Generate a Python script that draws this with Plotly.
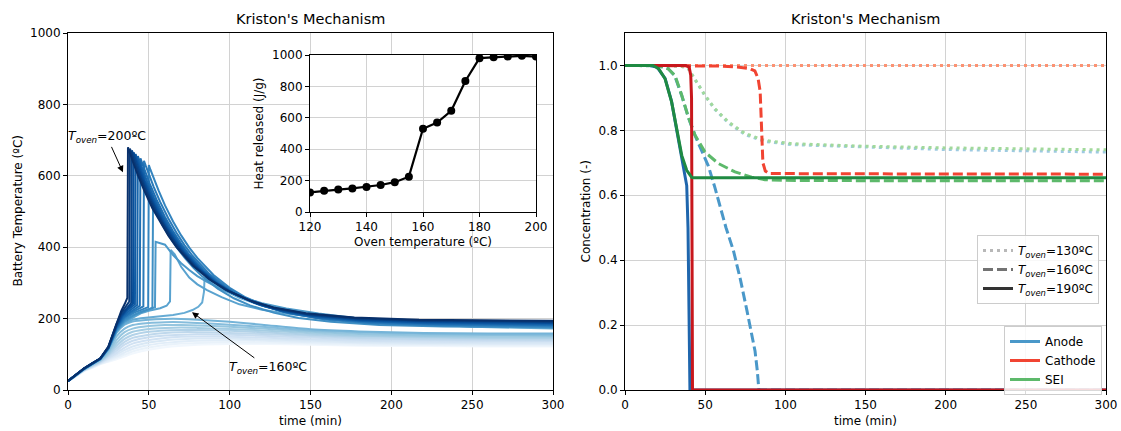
import plotly.graph_objects as go
from plotly.colors import sample_colorscale

# ---------------- Left panel: battery temperature vs time ----------------
oven_temps = [120.0, 123.3, 126.7, 130.0, 133.3, 136.7, 140.0, 143.3, 146.7, 150.0, 153.3, 156.7,
              160.0, 163.3, 166.7, 170.0, 173.3, 176.7, 180.0, 183.3, 186.7, 190.0, 193.3, 196.7, 200.0]

# curves without thermal runaway (120 ... 156.7 ºC) share one time grid
stable_time = [0, 5, 10, 15, 20, 25, 30, 35, 40, 50, 60, 70, 80, 100, 120, 150, 180, 220, 260, 300]
stable_temps = [
    [25, 39, 53, 62, 72, 79, 86, 94, 102, 113, 120, 124, 127, 129, 129, 127, 124, 123, 122, 122],
    [25, 39, 54, 63, 73, 81, 90, 99, 108, 119, 126, 130, 132, 134, 133, 130, 127, 126, 125, 125],
    [25, 39, 54, 64, 74, 84, 94, 105, 115, 126, 132, 136, 138, 139, 138, 134, 131, 129, 128, 128],
    [25, 40, 55, 65, 76, 87, 99, 112, 122, 133, 139, 142, 144, 144, 142, 138, 134, 132, 131, 131],
    [25, 40, 55, 66, 77, 90, 104, 119, 130, 140, 146, 149, 150, 149, 147, 142, 138, 136, 135, 135],
    [25, 40, 56, 67, 78, 93, 110, 127, 138, 148, 153, 155, 156, 155, 152, 147, 142, 140, 139, 138],
    [25, 40, 56, 68, 80, 96, 116, 135, 146, 155, 160, 162, 162, 160, 157, 151, 146, 143, 142, 141],
    [25, 41, 57, 69, 81, 99, 123, 143, 154, 163, 167, 168, 168, 166, 162, 155, 150, 147, 145, 145],
    [25, 41, 57, 70, 82, 102, 131, 152, 163, 171, 174, 175, 174, 171, 167, 159, 153, 150, 148, 148],
    [25, 41, 58, 71, 84, 106, 140, 162, 172, 179, 182, 182, 181, 177, 172, 163, 157, 153, 152, 151],
    [25, 42, 58, 72, 85, 110, 150, 172, 182, 188, 190, 190, 188, 183, 177, 167, 161, 157, 155, 155],
    [25, 42, 59, 73, 87, 115, 160, 183, 192, 197, 199, 199, 197, 191, 183, 170, 164, 160, 158, 158],
]

# curves with thermal runaway (160 ... 200 ºC), each with its own time points
runaway_times = [
    [0, 5, 10, 15, 20, 25, 30, 35, 40, 45, 55, 65, 72, 77, 80.6, 83, 84.1, 84.5, 90, 95, 106, 120, 135, 155, 180, 210, 250, 300],
    [0, 5, 10, 15, 20, 25, 30, 35, 40, 45, 50, 57, 61, 63.1, 63.5, 66, 70, 75, 80, 86, 95, 106, 120, 135, 155, 180, 210, 250, 300],
    [0, 5, 10, 15, 20, 25, 30, 35, 40, 45, 50, 53.8, 54.2, 57, 60, 65, 70, 75, 80, 86, 95, 106, 120, 135, 155, 180, 210, 250, 300],
    [0, 5, 10, 15, 20, 25, 30, 35, 42, 52.2, 52.6, 53.6, 55.6, 58.6, 62.6, 67.6, 72.6, 77.6, 82.6, 92.6, 102.6, 112.6, 127.6, 142.6, 162.6, 192.6, 232.6, 282.6, 300],
    [0, 5, 10, 15, 20, 25, 30, 35, 41, 49.6, 50, 51, 53, 56, 60, 65, 70, 75, 80, 90, 100, 110, 125, 140, 160, 190, 230, 280, 300],
    [0, 5, 10, 15, 20, 25, 30, 35, 40, 46.6, 47, 48, 50, 53, 57, 62, 67, 72, 77, 87, 97, 107, 122, 137, 157, 187, 227, 277, 300],
    [0, 5, 10, 15, 20, 25, 30, 34, 39, 44.4, 44.8, 45.8, 47.8, 50.8, 54.8, 59.8, 64.8, 69.8, 74.8, 84.8, 94.8, 104.8, 119.8, 134.8, 154.8, 184.8, 224.8, 274.8, 300],
    [0, 5, 10, 15, 20, 25, 30, 34, 38, 42.8, 43.2, 44.2, 46.2, 49.2, 53.2, 58.2, 63.2, 68.2, 73.2, 83.2, 93.2, 103.2, 118.2, 133.2, 153.2, 183.2, 223.2, 273.2, 300],
    [0, 5, 10, 15, 20, 25, 30, 34, 37, 41.4, 41.8, 42.8, 44.8, 47.8, 51.8, 56.8, 61.8, 66.8, 71.8, 81.8, 91.8, 101.8, 116.8, 131.8, 151.8, 181.8, 221.8, 271.8, 300],
    [0, 5, 10, 15, 20, 25, 30, 33, 36, 40.2, 40.6, 41.6, 43.6, 46.6, 50.6, 55.6, 60.6, 65.6, 70.6, 80.6, 90.6, 100.6, 115.6, 130.6, 150.6, 180.6, 220.6, 270.6, 300],
    [0, 5, 10, 15, 20, 25, 30, 33, 36, 39.1, 39.5, 40.5, 42.5, 45.5, 49.5, 54.5, 59.5, 64.5, 69.5, 79.5, 89.5, 99.5, 114.5, 129.5, 149.5, 179.5, 219.5, 269.5, 300],
    [0, 5, 10, 15, 20, 25, 30, 33, 35, 37.9, 38.3, 39.3, 41.3, 44.3, 48.3, 53.3, 58.3, 63.3, 68.3, 78.3, 88.3, 98.3, 113.3, 128.3, 148.3, 178.3, 218.3, 268.3, 300],
    [0, 5, 10, 15, 20, 25, 30, 33, 35, 36.7, 37.1, 38.1, 40.1, 43.1, 47.1, 52.1, 57.1, 62.1, 67.1, 77.1, 87.1, 97.1, 112.1, 127.1, 147.1, 177.1, 217.1, 267.1, 300],
]
runaway_temps = [
    [25, 42, 59, 73, 87, 115, 163, 186, 197, 201, 205, 210, 216, 224, 233, 245, 275, 315, 296, 283, 258, 236, 221, 208, 196, 187, 177, 172],
    [25, 42, 59, 73, 87, 116, 165, 190, 203, 215, 222, 229, 236, 248, 392, 380, 345, 315, 296, 280, 260, 240, 225, 214, 203, 193, 185, 178, 174],
    [25, 42, 59, 73, 87, 116, 166, 192, 207, 219, 226, 232, 415, 412, 407, 378, 355, 336, 319, 303, 282, 262, 243, 228, 214, 200, 190, 181, 176],
    [25, 42, 59, 73, 87, 116, 168, 196, 213, 230, 515, 506, 487, 461, 431, 397, 368, 342, 320, 284, 257, 237, 216, 202, 191, 182, 178, 176, 176],
    [25, 42, 60, 74, 87, 117, 170, 200, 217, 232, 630, 617, 593, 559, 517, 472, 433, 399, 370, 322, 286, 259, 231, 213, 197, 186, 181, 179, 178],
    [25, 42, 60, 74, 87, 117, 172, 204, 219, 234, 642, 629, 604, 569, 527, 481, 441, 406, 376, 327, 291, 263, 234, 215, 200, 188, 183, 181, 180],
    [25, 42, 60, 74, 87, 118, 174, 202, 220, 236, 649, 636, 611, 575, 533, 486, 446, 411, 380, 331, 294, 266, 237, 218, 202, 191, 185, 183, 182],
    [25, 42, 60, 74, 88, 118, 176, 206, 222, 238, 655, 642, 616, 581, 538, 491, 450, 415, 384, 334, 297, 269, 239, 220, 204, 193, 187, 185, 184],
    [25, 43, 60, 74, 88, 119, 178, 210, 224, 240, 661, 648, 622, 586, 543, 495, 454, 419, 387, 338, 300, 272, 242, 222, 207, 195, 189, 187, 186],
    [25, 43, 60, 74, 88, 119, 180, 206, 224, 242, 666, 653, 627, 591, 547, 499, 458, 422, 391, 341, 303, 274, 244, 225, 209, 197, 191, 189, 188],
    [25, 43, 61, 75, 88, 120, 182, 210, 228, 244, 671, 658, 632, 595, 551, 503, 462, 426, 394, 343, 305, 277, 246, 227, 211, 199, 193, 191, 190],
    [25, 43, 61, 75, 89, 121, 185, 216, 230, 248, 676, 662, 636, 600, 556, 507, 466, 429, 397, 346, 308, 279, 249, 229, 213, 201, 195, 193, 192],
    [25, 43, 61, 75, 89, 122, 188, 222, 240, 258, 680, 666, 640, 603, 559, 510, 469, 432, 400, 349, 311, 282, 251, 231, 215, 203, 197, 195, 194],
]

# inset: heat released vs oven temperature
inset_oven = [120, 125, 130, 135, 140, 145, 150, 155, 160, 165, 170, 175, 180, 185, 190, 195, 200]
inset_heat = [125, 135, 143, 150, 160, 172, 190, 225, 530, 570, 645, 835, 980, 985, 990, 995, 990]

# ---------------- Right panel: concentrations ----------------
anode_130_t = [0, 30, 35, 39.5, 44.7, 49.9, 56, 64.5, 75, 87, 104, 150, 200, 250, 300]
anode_130_c = [1, 1, 0.998, 0.99, 0.95, 0.907, 0.865, 0.823, 0.787, 0.766, 0.756, 0.748, 0.741, 0.737, 0.733]
cathode_130_t = [0, 300]
cathode_130_c = [1, 1]
sei_130_t = [0, 30, 35, 39.5, 44.7, 49.9, 56, 64.5, 75, 87, 104, 150, 200, 250, 300]
sei_130_c = [1, 1, 0.998, 0.99, 0.95, 0.908, 0.867, 0.826, 0.79, 0.769, 0.759, 0.751, 0.746, 0.743, 0.74]

anode_160_t = [0, 20, 27, 31, 35.4, 39.5, 43.7, 47, 52, 56, 59.3, 63, 67.6, 72, 76, 79, 81.1, 82.5, 83.5, 300]
anode_160_c = [1, 1, 0.99, 0.968, 0.907, 0.84, 0.784, 0.745, 0.69, 0.625, 0.565, 0.5, 0.43, 0.34, 0.246, 0.17, 0.12, 0.06, 0, 0]
cathode_160_t = [0, 60, 70, 78, 81, 83, 84.3, 85.2, 86, 87.5, 90, 150, 300]
cathode_160_c = [1, 0.998, 0.995, 0.99, 0.983, 0.96, 0.92, 0.8, 0.7, 0.675, 0.667, 0.666, 0.665]
sei_160_t = [0, 20.6, 26.9, 31.2, 35.4, 39.5, 43.7, 49.9, 58.2, 68.6, 79, 87.3, 100, 150, 300]
sei_160_c = [1, 1, 0.99, 0.969, 0.908, 0.841, 0.785, 0.733, 0.698, 0.672, 0.656, 0.648, 0.646, 0.645, 0.645]

anode_190_t = [0, 15, 20, 25, 29, 32, 34.3, 36.5, 38.5, 39.3, 39.8, 40.2, 40.5, 300]
anode_190_c = [1, 1, 0.995, 0.96, 0.89, 0.81, 0.74, 0.69, 0.63, 0.5, 0.3, 0.1, 0, 0]
cathode_190_t = [0, 38, 40, 41, 41.5, 41.8, 42.1, 300]
cathode_190_c = [1, 1, 0.995, 0.97, 0.9, 0.5, 0, 0]
sei_190_t = [0, 17.5, 21, 25, 29.1, 32.2, 35.4, 38.5, 40.5, 41.6, 43, 300]
sei_190_c = [1, 1, 0.99, 0.959, 0.887, 0.805, 0.723, 0.677, 0.66, 0.655, 0.654, 0.654]

style_labels = ["<i>T</i><sub><i>oven</i></sub>=130ºC",
                "<i>T</i><sub><i>oven</i></sub>=160ºC",
                "<i>T</i><sub><i>oven</i></sub>=190ºC"]
species_labels = ["Anode", "Cathode", "SEI"]

# ---------------- Figure ----------------
W, H = 1121, 431
FONT = "DejaVu Sans"

def px_x(p):
    return p / W

def px_y(p):
    return 1 - p / H

fig = go.Figure()

blue_cols = sample_colorscale("Blues", [0.03 + 0.97 * i / (len(oven_temps) - 1) for i in range(len(oven_temps))])

n_stable = len(stable_temps)
for i, temps in enumerate(stable_temps):
    fig.add_trace(go.Scatter(x=stable_time, y=temps, mode="lines",
                             line=dict(color=blue_cols[i], width=2, shape="spline", smoothing=0.6),
                             showlegend=False, hoverinfo="skip", xaxis="x", yaxis="y"))
for j, (ts, temps) in enumerate(zip(runaway_times, runaway_temps)):
    fig.add_trace(go.Scatter(x=ts, y=temps, mode="lines",
                             line=dict(color=blue_cols[n_stable + j], width=2),
                             showlegend=False, hoverinfo="skip", xaxis="x", yaxis="y"))

# inset
fig.add_trace(go.Scatter(x=inset_oven, y=inset_heat, mode="lines+markers",
                         line=dict(color="black", width=2.2),
                         marker=dict(color="black", size=8),
                         showlegend=False, hoverinfo="skip", xaxis="x3", yaxis="y3"))

# right panel
anode_cols = ["#9ecae1", "#4a98c9", "#1f66ad"]
cathode_cols = ["#fc9272", "#f14432", "#c8171c"]
sei_cols = ["#a1d99b", "#5db96b", "#1f8a42"]
dashes = ["3px,4px", "10px,4px", "solid"]

right_sets = [
    (anode_130_t, anode_130_c, cathode_130_t, cathode_130_c, sei_130_t, sei_130_c),
    (anode_160_t, anode_160_c, cathode_160_t, cathode_160_c, sei_160_t, sei_160_c),
    (anode_190_t, anode_190_c, cathode_190_t, cathode_190_c, sei_190_t, sei_190_c),
]
for k, (at, ac, ct, cc, st, sc) in enumerate(right_sets):
    for (tt, cv, col) in [(at, ac, anode_cols[k]), (ct, cc, cathode_cols[k]), (st, sc, sei_cols[k])]:
        fig.add_trace(go.Scatter(x=tt, y=cv, mode="lines",
                                 line=dict(color=col, width=3, dash=dashes[k]),
                                 showlegend=False, hoverinfo="skip", xaxis="x2", yaxis="y2"))

# legend entries (line styles)
style_cols = ["rgba(0,0,0,0.28)", "rgba(0,0,0,0.55)", "rgba(0,0,0,0.8)"]
for k in range(3):
    fig.add_trace(go.Scatter(x=[None], y=[None], mode="lines", name=style_labels[k],
                             line=dict(color=style_cols[k], width=3, dash=dashes[k]),
                             legend="legend", xaxis="x2", yaxis="y2"))
# legend entries (species)
for name, col in zip(species_labels, [anode_cols[1], cathode_cols[1], sei_cols[1]]):
    fig.add_trace(go.Scatter(x=[None], y=[None], mode="lines", name=name,
                             line=dict(color=col, width=3),
                             legend="legend2", xaxis="x2", yaxis="y2"))

axis_common = dict(showline=True, linecolor="black", linewidth=1, mirror=True,
                   ticks="outside", ticklen=4, tickcolor="black", tickwidth=1,
                   showgrid=True, gridcolor="#d2d2d2", gridwidth=1, zeroline=False,
                   automargin=False,
                   tickfont=dict(family=FONT, size=12, color="black"))

left_dom_x = [px_x(68), px_x(553)]
right_dom_x = [px_x(625), px_x(1106)]
dom_y = [px_y(390), px_y(33)]

fig.update_layout(
    width=W, height=H,
    margin=dict(l=0, r=0, t=0, b=0, pad=0, autoexpand=False),
    paper_bgcolor="white", plot_bgcolor="white",
    font=dict(family=FONT, size=12, color="black"),
    xaxis=dict(domain=left_dom_x, range=[0, 300], dtick=50, anchor="y", **axis_common),
    yaxis=dict(domain=dom_y, range=[0, 1000], dtick=200, anchor="x", **axis_common),
    xaxis2=dict(domain=right_dom_x, range=[0, 300], dtick=50, anchor="y2", **axis_common),
    yaxis2=dict(domain=dom_y, range=[0, 1.1], tickvals=[0, 0.2, 0.4, 0.6, 0.8, 1.0],
                tickformat=".1f", anchor="x2", **axis_common),
    xaxis3=dict(domain=[px_x(310), px_x(536)], range=[120, 200], dtick=20, anchor="y3", **axis_common),
    yaxis3=dict(domain=[px_y(212), px_y(55)], range=[0, 1000], dtick=200, anchor="x3", **axis_common),
    legend=dict(x=px_x(1099), y=px_y(235), xanchor="right", yanchor="top",
                bgcolor="rgba(255,255,255,0.85)", bordercolor="#cccccc", borderwidth=1,
                font=dict(family=FONT, size=12, color="black")),
    legend2=dict(x=px_x(1102), y=px_y(326), xanchor="right", yanchor="top",
                 bgcolor="rgba(255,255,255,0.85)", bordercolor="#cccccc", borderwidth=1,
                 font=dict(family=FONT, size=12, color="black")),
    showlegend=True,
)

def label(text, xp, yp, angle=0, size=12):
    return dict(text=text, x=px_x(xp), y=px_y(yp), xref="paper", yref="paper",
                xanchor="center", yanchor="middle", showarrow=False, textangle=angle,
                font=dict(size=size))

annos = [
    label("Kriston's Mechanism", (68 + 553) / 2, 19, size=14.5),
    label("Kriston's Mechanism", (625 + 1106) / 2, 19, size=14.5),
    label("time (min)", (68 + 553) / 2, 421),
    label("time (min)", (625 + 1106) / 2, 421),
    label("Battery Temperature (ºC)", 18, (33 + 390) / 2, angle=-90),
    label("Concentration (-)", 586, (33 + 390) / 2, angle=-90),
    label("Heat released (J/g)", 258, 133.5, angle=-90),
    label("Oven temperature (ºC)", 423, 242),
    dict(text="<i>T</i><sub><i>oven</i></sub>=200ºC", x=34.0, y=610, ax=24.1, ay=709,
         xref="x", yref="y", axref="x", ayref="y", showarrow=True,
         arrowhead=2, arrowsize=1.3, arrowwidth=1, arrowcolor="black", font=dict(size=12.5)),
    dict(text="<i>T</i><sub><i>oven</i></sub>=160ºC", x=76.7, y=218, ax=123.7, ay=62,
         xref="x", yref="y", axref="x", ayref="y", showarrow=True,
         arrowhead=2, arrowsize=1.3, arrowwidth=1, arrowcolor="black", font=dict(size=12.5)),
]
fig.update_layout(annotations=annos)

fig.write_html("out.html")
